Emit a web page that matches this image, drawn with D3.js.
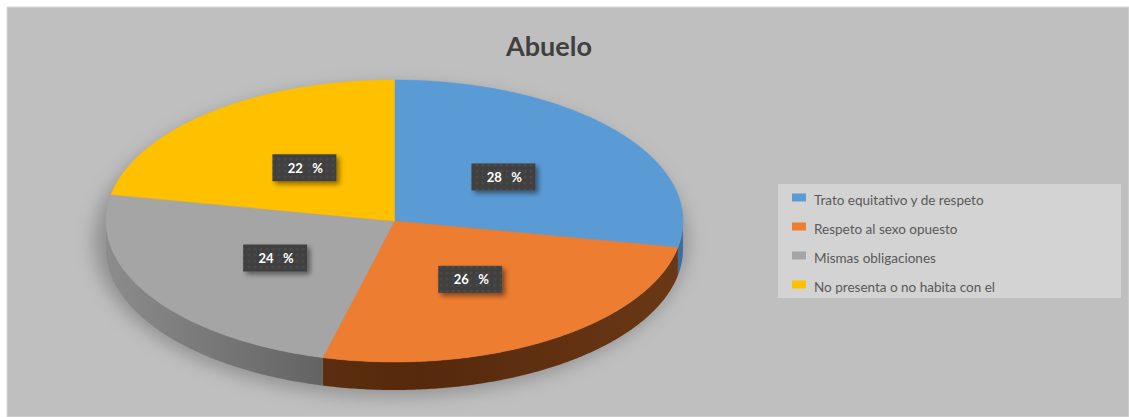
<!DOCTYPE html>
<html><head><meta charset="utf-8">
<script src="https://cdn.jsdelivr.net/npm/d3@7"></script>
<style>html,body{margin:0;padding:0;background:#fff;}</style>
</head><body>
<svg id="c" width="1129" height="417"></svg>
<script>
const title = "Abuelo";
const categories = ["Trato equitativo y de respeto","Respeto al sexo opuesto","Mismas obligaciones","No presenta o no habita con el"];
const values = [28, 26, 24, 22];
const topColors = ["#5b9bd5","#ed7d31","#a5a5a5","#ffc000"];
const wallLight = ["#3a6ea3","#6a3816","#8c8c8c","#8a6800"];
const wallDark  = ["#2a5580","#56290c","#505050","#6e5300"];

const W = 1129, H = 417;
const svg = d3.select("#c");
const defs = svg.append("defs");

// background
svg.append("rect").attr("x",7).attr("y",7).attr("width",W-7).attr("height",H-7)
  .attr("fill","#bfbfbf").attr("stroke","#d9d9d9").attr("stroke-width",1);

svg.append("text").attr("x",549).attr("y",56).attr("text-anchor","middle")
  .attr("font-family","Lato, 'Open Sans', sans-serif").attr("font-weight","bold")
  .attr("font-size",27).attr("fill","#404040").text(title);

// pie geometry
const cx = 394.5, cy = 221, rx = 288.5, ry = 141, depth = 28;
const color = d3.scaleOrdinal().domain(categories).range(topColors);
const pie = d3.pie().sort(null).value(d => d.v).startAngle(0).endAngle(2*Math.PI);
const data = categories.map((c,i)=>({c, v: values[i], i}));
const arcs = pie(data);

const px = (a, r=1) => cx + rx*r*Math.sin(a);
const py = (a, r=1, dy=0) => cy - ry*r*Math.cos(a) + dy;
const line = d3.line();
function samples(a0, a1){ const n = Math.max(2, Math.ceil((a1-a0)/0.01)); return d3.range(n+1).map(k => a0 + (a1-a0)*k/n); }

// shadow
const sh = defs.append("filter").attr("id","blur").attr("x","-20%").attr("y","-20%").attr("width","140%").attr("height","140%");
sh.append("feGaussianBlur").attr("stdDeviation",9);
svg.append("ellipse").attr("cx",cx-4).attr("cy",cy+depth/2+6).attr("rx",rx+8).attr("ry",ry+14)
  .attr("fill","#6a6a6a").attr("opacity",0.55).attr("filter","url(#blur)");

// walls
arcs.forEach((d,i) => {
  const s = Math.max(d.startAngle, Math.PI/2), e = Math.min(d.endAngle, 3*Math.PI/2);
  if (e <= s) return;
  const gid = "wg"+i;
  const g = defs.append("linearGradient").attr("id",gid).attr("gradientUnits","userSpaceOnUse")
    .attr("x1",cx-rx).attr("x2",cx+rx).attr("y1",0).attr("y2",0);
  g.append("stop").attr("offset",0).attr("stop-color",wallLight[i]);
  g.append("stop").attr("offset",0.55).attr("stop-color",wallDark[i]);
  g.append("stop").attr("offset",1).attr("stop-color",wallLight[i]);
  const topPts = samples(s,e).map(a => [px(a), py(a)]);
  const botPts = samples(s,e).reverse().map(a => [px(a), py(a,1,depth)]);
  svg.append("path").attr("d", line(topPts.concat(botPts)) + "Z").attr("fill","url(#"+gid+")");
});

// top
arcs.forEach((d,i) => {
  const pts = [[cx,cy]].concat(samples(d.startAngle,d.endAngle).map(a => [px(a),py(a)]));
  svg.append("path").attr("d", line(pts)+"Z").attr("fill", color(d.data.c))
    .attr("stroke", color(d.data.c)).attr("stroke-width",0.5);
});

// label boxes
const pat = defs.append("pattern").attr("id","dots").attr("patternUnits","userSpaceOnUse").attr("width",6).attr("height",6);
pat.append("rect").attr("width",6).attr("height",6).attr("fill","#404040");
pat.append("circle").attr("cx",3).attr("cy",3).attr("r",1.6).attr("fill","#4a4a4a");
const ds = defs.append("filter").attr("id","ds").attr("x","-30%").attr("y","-30%").attr("width","160%").attr("height","160%");
ds.append("feDropShadow").attr("dx",3).attr("dy",3).attr("stdDeviation",2.5).attr("flood-color","#000").attr("flood-opacity",0.45);

const bw = 64, bh = 27;
arcs.forEach((d,i) => {
  const m = (d.startAngle + d.endAngle)/2;
  const lx = px(m,0.49), ly = py(m,0.49);
  svg.append("rect").attr("x",lx-bw/2).attr("y",ly-bh/2).attr("width",bw).attr("height",bh)
    .attr("fill","url(#dots)").attr("filter","url(#ds)");
  svg.append("text").attr("x",lx+1).attr("y",ly+5).attr("text-anchor","middle")
    .style("white-space","pre")
    .attr("font-family","Lato, 'Open Sans', sans-serif").attr("font-weight","bold")
    .attr("font-size",13).attr("fill","#fff").text(d.data.v + "   %");
});

// legend
const lg = svg.append("g");
lg.append("rect").attr("x",778).attr("y",184).attr("width",343).attr("height",114).attr("fill","#d3d3d3");
const ly0 = d3.scalePoint().domain(categories).range([197.5, 284.5]);
categories.forEach((c,i) => {
  lg.append("rect").attr("x",792).attr("y",ly0(c)-4).attr("width",14).attr("height",8).attr("fill",color(c));
  lg.append("text").attr("x",814).attr("y",ly0(c)+7)
    .attr("font-family","Lato, 'Open Sans', sans-serif").attr("font-size",13.5)
    .attr("fill","#595959").text(c);
});
</script>
</body></html>
